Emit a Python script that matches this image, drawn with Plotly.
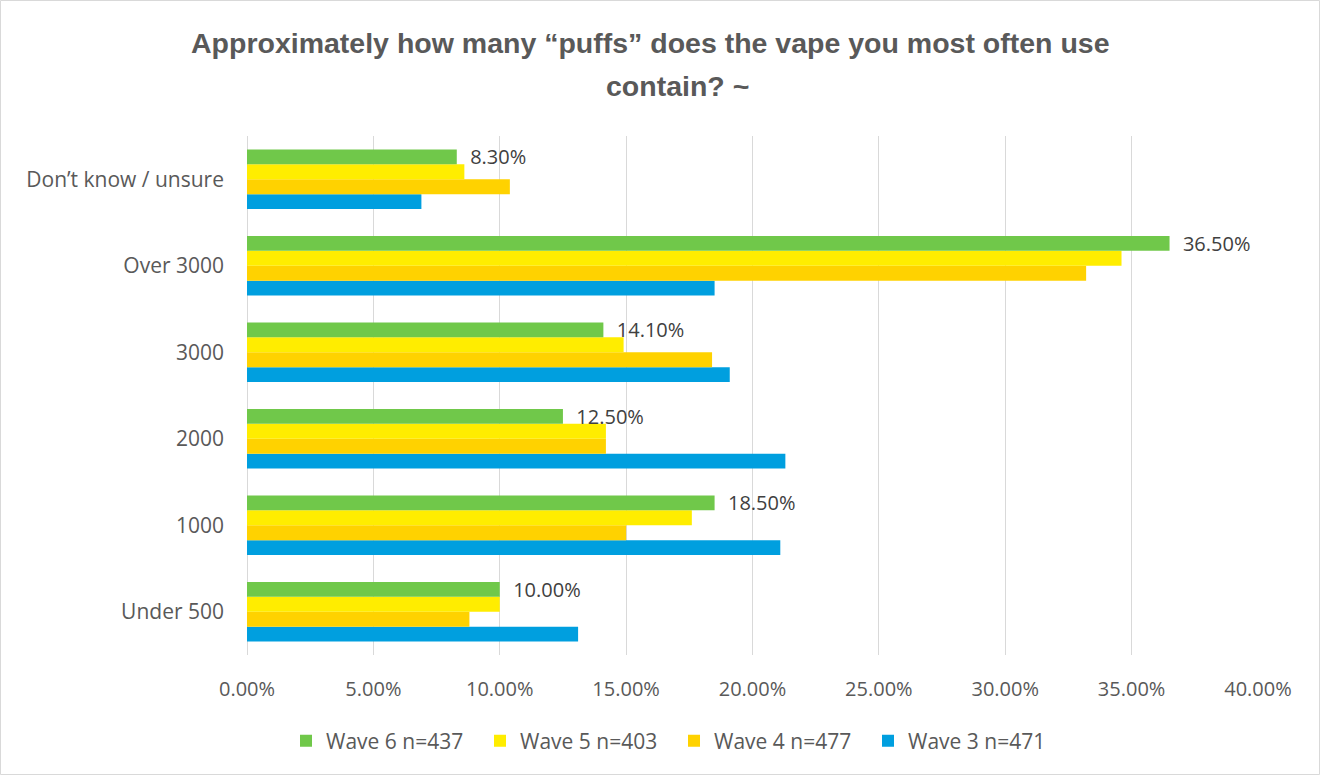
import plotly.graph_objects as go

categories = ["Under 500", "1000", "2000", "3000", "Over 3000", "Don\u2019t know / unsure"]
wave6 = [10.0, 18.5, 12.5, 14.1, 36.5, 8.3]
wave5 = [10.0, 17.6, 14.2, 14.9, 34.6, 8.6]
wave4 = [8.8, 15.0, 14.2, 18.4, 33.2, 10.4]
wave3 = [13.1, 21.1, 21.3, 19.1, 18.5, 6.9]
series_names = ["Wave 3 n=471", "Wave 4 n=477", "Wave 5 n=403", "Wave 6 n=437"]
series_values = [wave3, wave4, wave5, wave6]
colors = ["#009fdf", "#ffd200", "#ffed00", "#70c84a"]
x_ticks = [0, 5, 10, 15, 20, 25, 30, 35, 40]

FONT = "Open Sans, Liberation Sans, sans-serif"
W, H = 1321, 776
ML, MR, MT, MB = 247, 63, 136, 121

fig = go.Figure()
for name, vals, col in zip(series_names, series_values, colors):
    is_label = name.startswith("Wave 6")
    fig.add_trace(go.Bar(
        y=categories, x=vals, name=name, orientation="h",
        marker=dict(color=col, line=dict(width=0)),
        text=[f"\u00a0\u00a0{v:.2f}%" for v in vals] if is_label else None,
        textposition="outside" if is_label else None,
        constraintext="none",
        textfont=dict(family=FONT, size=20, color="#404040"),
        cliponaxis=False,
        hoverinfo="x+name",
    ))

pw = W - ML - MR
ph = H - MT - MB
fig.update_layout(
    width=W, height=H,
    margin=dict(l=ML, r=MR, t=MT, b=MB),
    paper_bgcolor="white", plot_bgcolor="white",
    barmode="group", bargap=0.31, bargroupgap=0,
    uniformtext=dict(mode=False),
    font=dict(family=FONT, size=20, color="#595959"),
    xaxis=dict(range=[0, 40], tickvals=x_ticks,
               ticktext=[f"{v:.2f}%" for v in x_ticks],
               showgrid=True, gridcolor="#d9d9d9", gridwidth=1,
               zeroline=True, zerolinecolor="#d9d9d9", zerolinewidth=1,
               showline=False, ticks="", ticklabelstandoff=20,
               tickfont=dict(family=FONT, size=20, color="#595959"),
               fixedrange=True),
    yaxis=dict(categoryorder="array", categoryarray=categories,
               showgrid=False, zeroline=False, showline=False, ticks="",
               ticklabelstandoff=22,
               tickfont=dict(family=FONT, size=21, color="#595959"),
               fixedrange=True),
    legend=dict(orientation="h", traceorder="reversed",
                x=(674) / W, xanchor="center", xref="container",
                y=(H - 741) / H, yanchor="middle", yref="container",
                font=dict(family=FONT, size=21, color="#595959"),
                entrywidth=149, entrywidthmode="pixels",
                itemclick=False, itemdoubleclick=False),
    showlegend=True,
    annotations=[
        dict(text="<b>Approximately how many \u201cpuffs\u201d does the vape you most often use</b>",
             xref="paper", yref="paper", x=(650 - ML) / pw, y=1 + (MT - 43) / ph,
             xanchor="center", yanchor="middle", showarrow=False,
             font=dict(family="Liberation Sans, Arial, sans-serif", size=28.5, color="#595959")),
        dict(text="<b>contain? ~</b>",
             xref="paper", yref="paper", x=(677 - ML) / pw, y=1 + (MT - 86) / ph,
             xanchor="center", yanchor="middle", showarrow=False,
             font=dict(family="Liberation Sans, Arial, sans-serif", size=28.5, color="#595959")),
    ],
    shapes=[dict(type="rect", xref="paper", yref="paper",
                 x0=(-ML + 0.5) / pw, x1=1 + (MR - 1.5) / pw,
                 y0=-(MB - 1.5) / ph, y1=1 + (MT - 0.5) / ph,
                 line=dict(color="#d9d9d9", width=1), fillcolor="rgba(0,0,0,0)",
                 layer="below")],
)

fig.write_html("out.html")
